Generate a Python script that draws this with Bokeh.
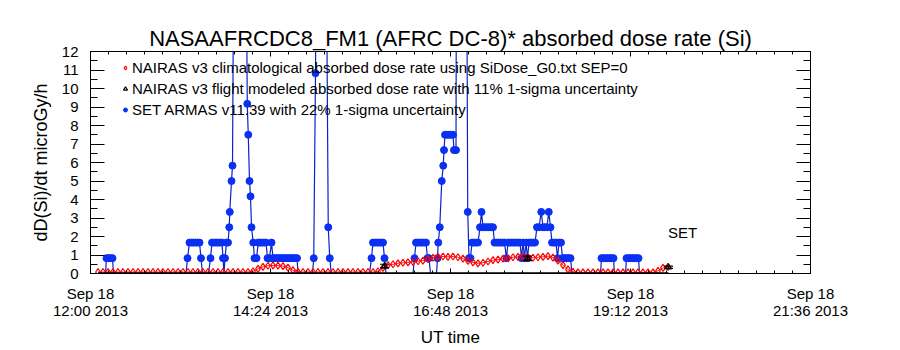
from bokeh.plotting import figure
from bokeh.models import (Range1d, FixedTicker, LinearAxis, Legend, LegendItem,
                          ColumnDataSource, CDSView, BooleanFilter, Label)
from bokeh.embed import file_html
from bokeh.resources import INLINE

FONT = "Liberation Sans"

TITLE = "NASAAFRCDC8_FM1 (AFRC DC-8)* absorbed dose rate (Si)"
X_LABEL = "UT time"
Y_LABEL = "dD(Si)/dt microGy/h"
X_TICKS = [0, 144, 288, 432, 576]          # minutes after 12:00 UT
X_TICK_LABELS = ["Sep 18\n12:00 2013", "Sep 18\n14:24 2013", "Sep 18\n16:48 2013",
                 "Sep 18\n19:12 2013", "Sep 18\n21:36 2013"]
Y_TICKS = list(range(0, 13))

LEG_RED = "NAIRAS v3 climatological absorbed dose rate using SiDose_G0.txt SEP=0"
LEG_BLACK = "NAIRAS v3 flight modeled absorbed dose rate with 11% 1-sigma uncertainty"
LEG_BLUE = "SET ARMAS v11.39 with 22% 1-sigma uncertainty"

# NAIRAS climatological (red), sampled every 4 min from 12:06 UT
red_t = list(range(6, 463, 4))
red_v = [0.08, 0.08, 0.08, 0.08, 0.08, 0.08, 0.08, 0.08, 0.08, 0.08,
         0.08, 0.08, 0.08, 0.08, 0.08, 0.08, 0.08, 0.08, 0.08, 0.08,
         0.08, 0.08, 0.08, 0.08, 0.08, 0.08, 0.08, 0.08, 0.08, 0.08,
         0.08,
         0.12, 0.25, 0.36, 0.42, 0.44, 0.43, 0.40, 0.32, 0.18, 0.09,
         0.08, 0.08, 0.08, 0.08, 0.08, 0.08, 0.08, 0.08, 0.08, 0.08,
         0.08, 0.08, 0.08, 0.08, 0.08,
         0.12, 0.30, 0.45, 0.50, 0.55, 0.58, 0.60, 0.62, 0.66, 0.70,
         0.78, 0.85, 0.90, 0.92, 0.90, 0.92, 0.88, 0.80, 0.68, 0.60,
         0.55, 0.58, 0.65, 0.72, 0.75, 0.80, 0.82, 0.88, 0.90, 0.92,
         0.88, 0.85, 0.88, 0.90, 0.94, 0.86, 0.70, 0.45, 0.22, 0.09,
         0.06, 0.06, 0.06, 0.06, 0.06, 0.06, 0.06, 0.06, 0.06, 0.06,
         0.06, 0.06, 0.06, 0.06, 0.06, 0.06,
         0.15, 0.30, 0.36]

# NAIRAS flight modeled (black)
flight_track_t = [6.0, 462.4]
flight_track_v = [0.0, 0.0]
flight_t = [235.2, 349.6, 462.4]
flight_v = [0.40, 0.82, 0.34]
flight_err = [0.10, 0.12, 0.06]

# SET ARMAS (blue)
blue_t = [12.0, 12.8, 14.4, 16.0, 17.6, 18.4,
          76.4, 77.6, 79.2, 80.8, 82.4, 84.0, 85.6, 87.2, 88.4, 89.6,
          94.4, 96.0, 97.2, 98.8, 100.4, 102.0, 103.6, 105.2, 106.0, 106.8,
          107.6, 108.8, 110.0, 111.0, 111.4, 112.8, 113.6, 114.8, 124.4,
          125.4, 126.2, 127.2, 128.0, 128.8, 130.2, 131.2, 132.8, 134.2,
          135.6, 137.2, 138.8, 140.4, 141.6, 143.2, 144.8, 146.0, 147.6,
          149.2, 150.8, 152.4, 154.0, 155.6, 157.2, 158.8, 160.4, 162.0,
          163.6, 165.2, 166.0,
          177.6, 178.6, 180.0, 180.8, 188.4, 190.2, 191.4, 192.6,
          223.2, 224.8, 226.0, 227.6, 229.2, 230.8, 232.4, 234.0, 235.2, 236.4,
          258.0, 259.2, 260.4, 262.0, 263.6, 265.2, 266.8, 268.4, 269.6, 270.8, 272.0,
          276.8, 277.6, 278.2, 279.4, 281.0, 282.2, 282.8, 283.6, 285.2, 286.8,
          288.4, 290.0, 290.8, 292.4, 292.8, 300.8, 301.8, 302.8, 304.0, 305.2,
          306.8, 308.4, 310.0, 311.6, 312.8, 314.0, 315.6, 317.2, 318.8, 320.4,
          322.0, 323.2, 324.8, 326.4, 328.0, 329.6, 331.2, 332.8, 334.0, 335.6,
          337.2, 338.8, 340.4, 342.0, 343.6, 344.8, 346.0, 347.2, 348.4, 349.6,
          350.8, 352.4, 354.0, 355.6, 357.2, 358.8, 360.6, 362.0, 363.6, 365.2,
          366.6, 368.0, 369.2, 370.8, 372.4, 373.6, 374.8, 376.4, 377.6, 379.2,
          380.8, 382.4, 384.0, 385.2,
          408.0, 408.8, 410.4, 412.0, 413.6, 415.2, 416.8, 418.4, 419.2,
          428.0, 428.8, 430.4, 432.0, 433.6, 435.2, 436.8, 438.4, 439.2,
          462.4]
blue_v = [0, 0.83, 0.83, 0.83, 0.83, 0,
          0, 0.83, 1.67, 1.67, 1.67, 1.67, 1.67, 1.67, 0.83, 0,
          0, 0.83, 1.67, 1.67, 1.67, 1.67, 1.67, 1.67, 0.83, 0,
          0.83, 1.67, 1.67, 2.5, 3.33, 5.0, 5.83, 20, 20,
          9.17, 7.5, 5.0, 4.17, 2.5, 1.67, 0.83, 0.83, 1.67,
          1.67, 1.67, 1.67, 1.67, 0.83, 0.83, 1.67, 0.83, 0.83,
          0.83, 0.83, 0.83, 0.83, 0.83, 0.83, 0.83, 0.83, 0.83,
          0.83, 0.83, 0,
          0, 0.83, 10.83, 20, 20, 2.5, 0.83, 0,
          0, 0.83, 1.67, 1.67, 1.67, 1.67, 1.67, 1.67, 0.83, 0,
          0, 0.83, 1.67, 1.67, 1.67, 1.67, 1.67, 1.67, 0.83, 0.83, 0,
          0, 0.83, 1.67, 2.5, 5.0, 5.83, 6.67, 7.5, 7.5, 7.5,
          7.5, 7.5, 6.67, 6.67, 20, 20, 3.33, 0.83, 0.83, 1.67,
          1.67, 1.67, 1.67, 2.5, 3.33, 2.5, 2.5, 2.5, 2.5, 2.5,
          2.5, 1.67, 1.67, 1.67, 1.67, 1.67, 1.67, 0.83, 1.67, 1.67,
          1.67, 1.67, 1.67, 1.67, 1.67, 0.83, 1.67, 0.83, 1.67, 0.83,
          1.67, 1.67, 1.67, 1.67, 2.5, 2.5, 3.33, 2.5, 2.5, 2.5,
          3.33, 2.5, 1.67, 1.67, 1.67, 0.83, 1.67, 1.67, 0.83, 0.83,
          0.83, 0.83, 0.83, 0,
          0, 0.83, 0.83, 0.83, 0.83, 0.83, 0.83, 0.83, 0,
          0, 0.83, 0.83, 0.83, 0.83, 0.83, 0.83, 0.83, 0,
          0]

p = figure(width=900, height=350, output_backend="svg", toolbar_location=None,
           x_range=Range1d(0, 576), y_range=Range1d(0, 12),
           min_border_left=90, min_border_right=90, min_border_top=51,
           min_border_bottom=71, title=TITLE)
p.background_fill_color = "white"
p.border_fill_color = "white"
p.outline_line_color = "black"
p.xgrid.visible = False
p.ygrid.visible = False

p.title.align = "center"
p.title.text_font = FONT
p.title.text_font_size = "22px"
p.title.text_font_style = "normal"
p.title.text_color = "black"
p.title.standoff = 2

xt = FixedTicker(ticks=X_TICKS, minor_ticks=[i * 14.4 for i in range(41)])
yt = FixedTicker(ticks=Y_TICKS, minor_ticks=[i * 0.5 for i in range(25)])

def style_x(ax):
    ax.ticker = xt
    ax.major_tick_in = 5
    ax.major_tick_out = 0
    ax.minor_tick_in = 3
    ax.minor_tick_out = 0
    ax.axis_line_color = "black"
    ax.major_tick_line_color = "black"
    ax.minor_tick_line_color = "black"

def style_y(ax):
    ax.ticker = yt
    ax.major_tick_in = 14
    ax.major_tick_out = 0
    ax.minor_tick_in = 7
    ax.minor_tick_out = 0
    ax.axis_line_color = "black"
    ax.major_tick_line_color = "black"
    ax.minor_tick_line_color = "black"

xa = p.xaxis[0]
style_x(xa)
xa.major_label_overrides = dict(zip(X_TICKS, X_TICK_LABELS))
xa.major_label_text_font = FONT
xa.major_label_text_font_size = "15px"
xa.major_label_text_color = "black"
xa.major_label_text_line_height = 1.05
xa.major_label_standoff = 11
xa.axis_label = X_LABEL
xa.axis_label_text_font = FONT
xa.axis_label_text_font_size = "17px"
xa.axis_label_text_font_style = "normal"
xa.axis_label_text_color = "black"
xa.axis_label_standoff = 6

ya = p.yaxis[0]
style_y(ya)
ya.major_label_text_font = FONT
ya.major_label_text_font_size = "15px"
ya.major_label_text_color = "black"
ya.major_label_standoff = 12
ya.axis_label = Y_LABEL
ya.axis_label_text_font = FONT
ya.axis_label_text_font_size = "18px"
ya.axis_label_text_font_style = "normal"
ya.axis_label_text_color = "black"
ya.axis_label_standoff = 8

top = LinearAxis()
style_x(top)
top.major_label_overrides = {t: "" for t in X_TICKS}
top.major_label_standoff = 0
p.add_layout(top, "above")
right = LinearAxis()
style_y(right)
right.major_label_overrides = {t: "" for t in Y_TICKS}
right.major_label_standoff = 0
p.add_layout(right, "right")

# SET ARMAS (blue)
bsrc = ColumnDataSource(dict(t=blue_t, v=blue_v))
p.line("t", "v", source=bsrc, line_color="#0a22c8", line_width=1.2)
bview = CDSView(filter=BooleanFilter([v > 0 for v in blue_v]))
r_blue = p.scatter("t", "v", source=bsrc, view=bview, marker="circle", size=7,
                   fill_color="#0a30f5", line_color="#0a30f5")

# NAIRAS climatological (red)
rsrc = ColumnDataSource(dict(t=red_t, v=red_v))
p.line("t", "v", source=rsrc, line_color="#d00000", line_width=0.8)
r_red = p.scatter("t", "v", source=rsrc, marker="diamond", size=7,
                  fill_alpha=0, line_color="#ff0000", line_width=1.2)

# NAIRAS flight modeled (black)
p.line(flight_track_t, flight_track_v, line_color="black", line_width=2.5)
lo = [v - e for v, e in zip(flight_v, flight_err)]
hi = [v + e for v, e in zip(flight_v, flight_err)]
p.segment(flight_t, lo, flight_t, hi, line_color="black", line_width=1.2)
p.scatter(flight_t, lo, marker="dash", size=9, line_color="black", line_width=1.2)
p.scatter(flight_t, hi, marker="dash", size=9, line_color="black", line_width=1.2)
r_black = p.scatter(flight_t, flight_v, marker="triangle", size=6,
                    fill_alpha=0, line_color="black", line_width=1.2)

legend = Legend(items=[LegendItem(label=LEG_RED, renderers=[r_red]),
                       LegendItem(label=LEG_BLACK, renderers=[r_black]),
                       LegendItem(label=LEG_BLUE, renderers=[r_blue])],
                location=(30, 155), orientation="vertical",
                label_text_font=FONT, label_text_font_size="15px",
                label_text_color="black", glyph_width=10, glyph_height=15,
                label_height=15, label_standoff=2, spacing=4, padding=0, margin=0,
                border_line_alpha=0, background_fill_alpha=0)
p.add_layout(legend)

p.add_layout(Label(x=462, y=2.2, text="SET", text_font=FONT, text_font_size="15px",
                   text_color="black", text_baseline="middle"))

open("out.html", "w").write(file_html(p, INLINE))
